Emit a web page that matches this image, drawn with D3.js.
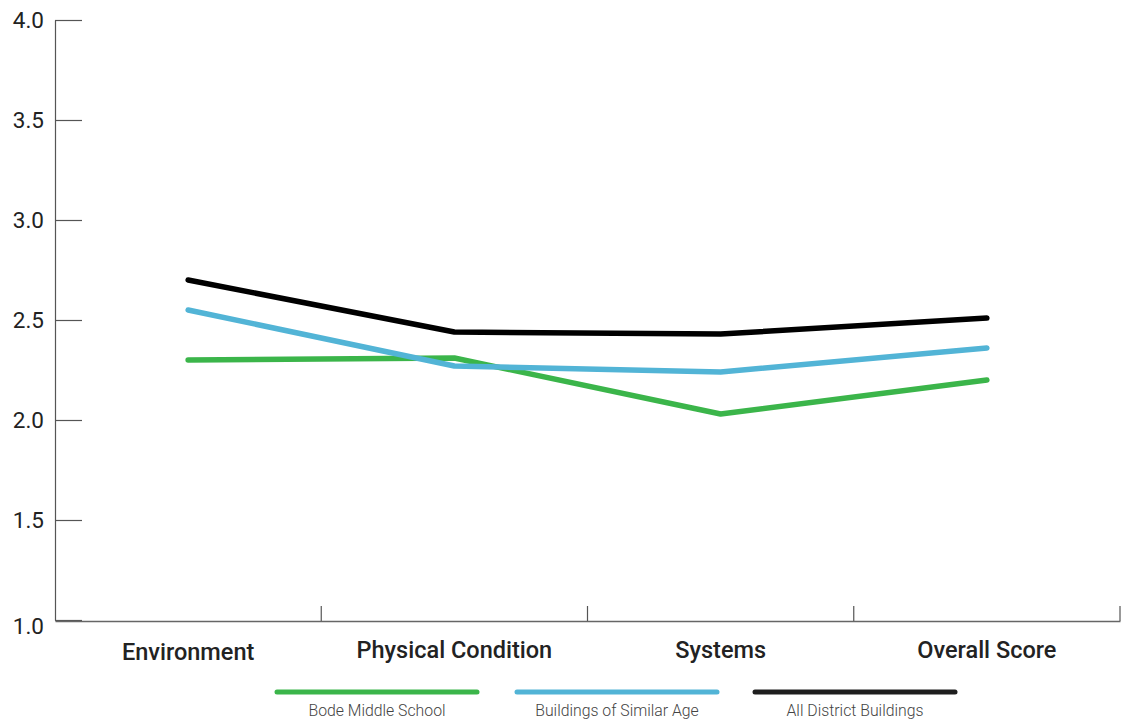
<!DOCTYPE html>
<html>
<head>
<meta charset="utf-8">
<script src="https://cdn.jsdelivr.net/npm/d3@7"></script>
<style>
body { margin: 0; background: #fff; }
text { font-family: Roboto, "Noto Sans", sans-serif; }
</style>
</head>
<body>
<div class="visHolder"></div>
<script>
var categories = ["Environment", "Physical Condition", "Systems", "Overall Score"]
var seriesNames = ["Bode Middle School", "Buildings of Similar Age", "All District Buildings"]
var bode = [2.30, 2.31, 2.03, 2.20]
var similar = [2.55, 2.27, 2.24, 2.36]
var district = [2.70, 2.44, 2.43, 2.51]
var yTicks = [1.0, 1.5, 2.0, 2.5, 3.0, 3.5, 4.0]
var colors = ["#3bb54a", "#52b4d6", "#000000"]
var legendColors = ["#3bb54a", "#52b4d6", "#1e1e1e"]

var width = 1124
var height = 719
var plotLeft = 55, plotRight = 1120, plotTop = 20, plotBottom = 620

var svg = d3.select('.visHolder')
    .append('svg')
    .attr('width', width)
    .attr('height', height)

var xScale = d3.scaleBand()
    .domain(categories)
    .range([plotLeft, plotRight])

var yScale = d3.scaleLinear()
    .domain([1, 4])
    .range([plotBottom, plotTop])

// y axis: ticks point inward
var yAxis = svg.append("g")
    .attr("transform", `translate(${plotLeft},0)`)
    .call(d3.axisRight(yScale).tickValues(yTicks).tickSize(27).tickSizeOuter(0).tickFormat(""))
yAxis.select(".domain").attr("stroke", "#555").attr("stroke-width", 1.2)
yAxis.selectAll(".tick line").attr("stroke", "#555").attr("stroke-width", 1.2)

svg.selectAll(".ylab")
    .data(yTicks)
    .enter()
    .append("text")
    .attr("class", "ylab")
    .attr("x", 44)
    .attr("y", d => yScale(d) + (d == 1 ? 14 : 8))
    .attr("text-anchor", "end")
    .style("font-size", "22.5px")
    .style("fill", "#222")
    .text(d => d.toFixed(1))

// x axis
var xAxis = svg.append("g")
    .attr("transform", `translate(0,${plotBottom + 1})`)
    .call(d3.axisTop(xScale).tickSize(0).tickSizeOuter(0).tickFormat(""))
xAxis.select(".domain").attr("stroke", "#666").attr("stroke-width", 1.5)

svg.selectAll(".xtick")
    .data(categories.map(c => xScale(c) + xScale.bandwidth()))
    .enter()
    .append("line")
    .attr("class", "xtick")
    .attr("x1", d => d).attr("x2", d => d)
    .attr("y1", plotBottom - 14).attr("y2", plotBottom + 1)
    .attr("stroke", "#555")
    .attr("stroke-width", 1.2)

svg.selectAll(".xlab")
    .data(categories)
    .enter()
    .append("text")
    .attr("class", "xlab")
    .attr("x", d => xScale(d) + xScale.bandwidth() / 2)
    .attr("y", (d, i) => i == 0 ? 660 : 658)
    .attr("text-anchor", "middle")
    .style("font-size", "23.5px")
    .style("font-weight", "500")
    .style("fill", "#222")
    .text(d => d)

var line = d3.line()
    .x((d, i) => xScale(categories[i]) + xScale.bandwidth() / 2)
    .y(d => yScale(d))

var allSeries = [bode, similar, district]
svg.selectAll(".series")
    .data(allSeries)
    .enter()
    .append("path")
    .attr("class", "series")
    .attr("d", d => line(d))
    .attr("fill", "none")
    .attr("stroke", (d, i) => colors[i])
    .attr("stroke-width", 5.5)
    .attr("stroke-linecap", "round")
    .attr("stroke-linejoin", "round")

// legend
var legendX = [277, 517, 755]
var legendW = 200
var lg = svg.selectAll(".legend")
    .data(seriesNames)
    .enter()
    .append("g")
    .attr("class", "legend")
    .attr("transform", (d, i) => `translate(${legendX[i]},692)`)
lg.append("line")
    .attr("x1", 0).attr("x2", legendW)
    .attr("y1", 0).attr("y2", 0)
    .attr("stroke", (d, i) => legendColors[i])
    .attr("stroke-width", 5)
    .attr("stroke-linecap", "round")
lg.append("text")
    .attr("x", legendW / 2)
    .attr("y", 24)
    .attr("text-anchor", "middle")
    .style("font-size", "15.8px")
    .style("font-weight", "300")
    .style("fill", "#444")
    .text(d => d)
</script>
</body>
</html>
